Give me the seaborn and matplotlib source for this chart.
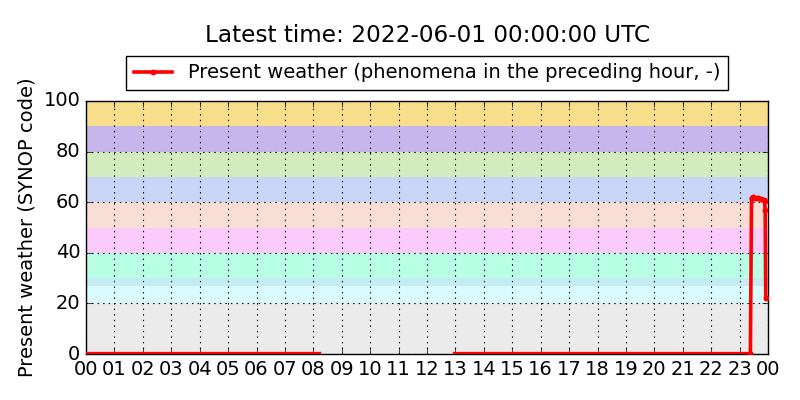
import numpy as np
import pandas as pd
import matplotlib
matplotlib.use('Agg')
import matplotlib.pyplot as plt
import seaborn as sns

# hours since 2022-05-31 00:00 UTC
seg1_hours = [0.0, 8.17]
seg1_code = [0, 0]
seg2_hours = [13.0, 23.38]
seg2_code = [0, 0]
seg3_hours = [23.38, 23.42, 23.47, 23.55, 23.65, 23.75, 23.85, 23.88, 23.9, 23.92]
seg3_code = [0, 61.5, 62, 61.5, 61.5, 61.3, 61, 60.5, 57, 22]

hour_ticks = list(range(25))
hour_labels = ['%02d' % (h % 24) for h in hour_ticks]

# SYNOP present weather bands
band_edges = [(0, 20), (20, 27), (27, 30), (30, 40), (40, 50), (50, 60),
              (60, 70), (70, 80), (80, 90), (90, 100)]
band_colors = ['#ebebeb', '#d9fbfe', '#c4ecf2', '#b8ffe6', '#fbcbfb', '#f8ded5',
               '#c8d5f5', '#d2ecc0', '#c7b6ec', '#f7de8a']

plt.style.use('classic')
plt.rcParams['figure.facecolor'] = 'white'
plt.rcParams['savefig.facecolor'] = 'white'
plt.rcParams['font.family'] = ['DejaVu Sans']

fig = plt.figure(figsize=(8, 4), dpi=100)
ax = fig.add_axes([0.1075, 0.115, 0.8525, 0.6325])

for (lo, hi), c in zip(band_edges, band_colors):
    ax.axhspan(lo, hi, color=c, lw=0, zorder=0)

ax.grid(True, color='black', linestyle=':', linewidth=0.8, zorder=1)

# zero runs sit half under the spine, draw them a bit heavier
for hrs, vals in [(seg1_hours, seg1_code), (seg2_hours, seg2_code)]:
    d = pd.DataFrame({'hour': hrs, 'code': vals})
    sns.lineplot(data=d, x='hour', y='code', color='red', lw=3.8, ax=ax, zorder=5)

df3 = pd.DataFrame({'hour': seg3_hours, 'code': seg3_code})
sns.lineplot(data=df3, x='hour', y='code', color='red', lw=2.6, marker='.',
             markersize=7, markeredgecolor='red', ax=ax, zorder=5,
             label='Present weather (phenomena in the preceding hour, -)')

ax.set_xlim(0, 24)
ax.set_ylim(0, 100)
ax.set_xticks(hour_ticks)
ax.set_xticklabels(hour_labels)
ax.set_yticks([0, 20, 40, 60, 80, 100])
ax.tick_params(labelsize=14)
ax.set_xlabel('')
ax.set_ylabel('Present weather (SYNOP code)', fontsize=14)

ax.legend(loc='lower center', bbox_to_anchor=(0.5, 1.02), fontsize=14,
          numpoints=1, fancybox=False, borderaxespad=0.3)
fig.text(0.534, 0.912, 'Latest time: 2022-06-01 00:00:00 UTC', fontsize=16.7,
         ha='center', va='center')

plt.savefig('out.png', dpi=100)
